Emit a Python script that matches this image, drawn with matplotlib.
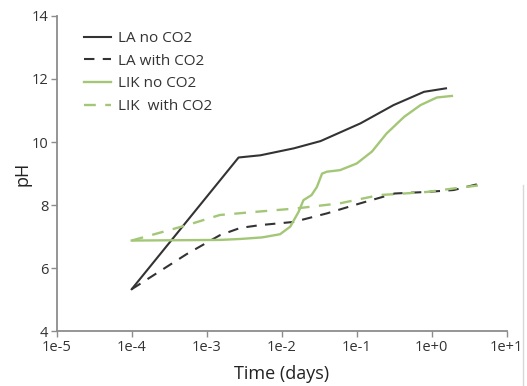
import matplotlib
matplotlib.use("Agg")
import matplotlib.pyplot as plt
from matplotlib.lines import Line2D

plt.rcParams['font.family'] = ['Open Sans', 'DejaVu Sans']

# Time in days, pH values
la_no_t = [1e-4, 2.66e-3, 5.2e-3, 1.45e-2, 3.3e-2, 1.12e-1, 3.1e-1, 7.9e-1, 1.55]
la_no_ph = [5.34, 9.51, 9.58, 9.80, 10.03, 10.59, 11.17, 11.59, 11.70]

la_co2_t = [1e-4, 5.4e-4, 1.5e-3, 2.8e-3, 5.2e-3, 1.45e-2, 4.0e-2, 1.12e-1, 3.2e-1, 8.7e-1, 1.97, 4.5]
la_co2_ph = [5.34, 6.45, 7.05, 7.28, 7.37, 7.47, 7.74, 8.06, 8.37, 8.42, 8.48, 8.69]

lik_no_t = [1e-4, 1.5e-3, 2.8e-3, 5.5e-3, 9.5e-3, 1.3e-2, 1.68e-2, 1.95e-2, 2.5e-2, 2.95e-2, 3.45e-2, 4.0e-2,
            6.0e-2, 1.0e-1, 1.6e-1, 2.5e-1, 4.3e-1, 7.1e-1, 1.17, 1.86]
lik_no_ph = [6.88, 6.90, 6.93, 6.98, 7.08, 7.32, 7.79, 8.16, 8.32, 8.58, 9.00, 9.06,
             9.11, 9.32, 9.70, 10.27, 10.80, 11.17, 11.41, 11.46]

lik_co2_t = [1e-4, 5.5e-4, 1.5e-3, 5.1e-3, 1.6e-2, 6.0e-2, 2.0e-1, 4.3e-1, 8.7e-1, 1.97, 4.7]
lik_co2_ph = [6.88, 7.37, 7.69, 7.80, 7.90, 8.06, 8.32, 8.37, 8.42, 8.53, 8.64]

xticks = [1e-5, 1e-4, 1e-3, 1e-2, 1e-1, 1e0, 1e1]
xticklabels = ['1e-5', '1e-4', '1e-3', '1e-2', '1e-1', '1e+0', '1e+1']
yticks = [4, 6, 8, 10, 12, 14]

black = '#333333'
green = '#a3c777'
spine = '#8c8c8c'

fig = plt.figure(figsize=(5.27, 3.86), dpi=100)
ax = fig.add_axes([0.1076, 0.1412, 0.8539, 0.8181])

ax.plot(la_no_t, la_no_ph, color=black, lw=1.5, label='LA no CO2')
ax.plot(la_co2_t, la_co2_ph, color=black, lw=1.5, dashes=(5, 4), label='LA with CO2')
ax.plot(lik_no_t, lik_no_ph, color=green, lw=1.7, label='LIK no CO2')
ax.plot(lik_co2_t, lik_co2_ph, color=green, lw=1.7, dashes=(5, 4), label='LIK  with CO2')

ax.set_xscale('log')
ax.set_xlim(1e-5, 1e1)
ax.set_ylim(4, 14)
ax.set_xticks(xticks)
ax.set_xticklabels(xticklabels)
ax.minorticks_off()
ax.set_yticks(yticks)

for s in ['top', 'right']:
    ax.spines[s].set_visible(False)
for s in ['left', 'bottom']:
    ax.spines[s].set_color(spine)
    ax.spines[s].set_linewidth(1.3)
ax.tick_params(axis='both', colors=spine, labelcolor='#333333', labelsize=10.5,
               length=4, width=1.0, direction='out', pad=2)

ax.set_xlabel('Time (days)', fontsize=13, color='#222222', labelpad=7)
ax.set_ylabel('pH', fontsize=13, color='#222222', labelpad=0)

leg = ax.legend(loc='upper left', bbox_to_anchor=(0.03, 0.995), frameon=False, fontsize=11,
                handlelength=1.8, handletextpad=0.4, labelspacing=0.5)
for t in leg.get_texts():
    t.set_color('#333333')

# faint vertical edge line at right of the picture
fig.add_artist(Line2D([523 / 527, 523 / 527], [0, 1 - 185 / 386], transform=fig.transFigure,
                      color='#d8d8d8', lw=1.0))

fig.savefig('out.png', dpi=100)
